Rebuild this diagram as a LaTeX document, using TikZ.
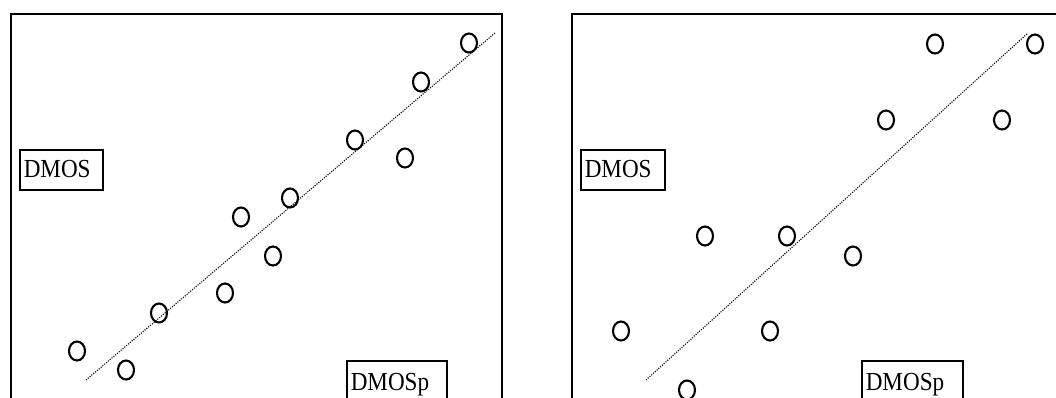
\documentclass[tikz,border=0pt]{standalone}
\usepackage{fontspec}
\setmainfont{Liberation Serif}
\usetikzlibrary{shapes.geometric}
\begin{document}
\begin{tikzpicture}[x=1pt,y=-1pt,
  frame/.style={line width=2.3pt},
  pt/.style={draw, ellipse, line width=2.1pt, minimum width=16pt, minimum height=19pt, inner sep=0pt},
  fit/.style={line width=1.1pt, dash pattern=on 1.1pt off 1.3pt},
  lbl/.style={draw, line width=1.5pt, anchor=north west, inner ysep=0pt, inner xsep=4pt,
    align=left, text depth=12pt, font=\fontsize{26}{30}\selectfont}
]
\useasboundingbox (0,0) rectangle (1056,397);
\clip (0,0) rectangle (1056,397);
% frames
\draw[frame] (11,410) -- (11,14) -- (502,14) -- (502,410);
\draw[frame] (572,410) -- (572,14) -- (1070,14);
% left panel
\node[lbl, text width=75pt, text height=28pt] (l1) at (19,149) {\scalebox{0.89}[1]{DMOS}};
\node[lbl, text width=92pt, text height=30pt] (l2) at (346,360) {\scalebox{0.89}[1]{DMOSp}};
\coordinate (la) at (86,380);
\coordinate (lb) at (495,33);
\draw[fit] (la) -- (lb);
\foreach \n/\x/\y in {a1/77/351, a2/126/370, a3/159/313, a4/225/293, a5/241/217, a6/273/256,
  a7/290/198, a8/355/140, a9/405/158, a10/421/82, a11/469/43}
  \node[pt] (\n) at (\x,\y) {};
% right panel
\node[lbl, text width=76pt, text height=28pt] (r1) at (580,149) {\scalebox{0.89}[1]{DMOS}};
\node[lbl, text width=93pt, text height=30pt] (r2) at (861,360) {\scalebox{0.89}[1]{DMOSp}};
\coordinate (ra) at (646,380);
\coordinate (rb) at (1028,33);
\draw[fit] (ra) -- (rb);
\foreach \n/\x/\y in {b1/621/331, b2/705/236, b3/687/390, b4/770/331, b5/787/236, b6/853/256,
  b7/886/120, b8/935/44, b9/1002/120, b10/1035/44}
  \node[pt] (\n) at (\x,\y) {};
\end{tikzpicture}
\end{document}
